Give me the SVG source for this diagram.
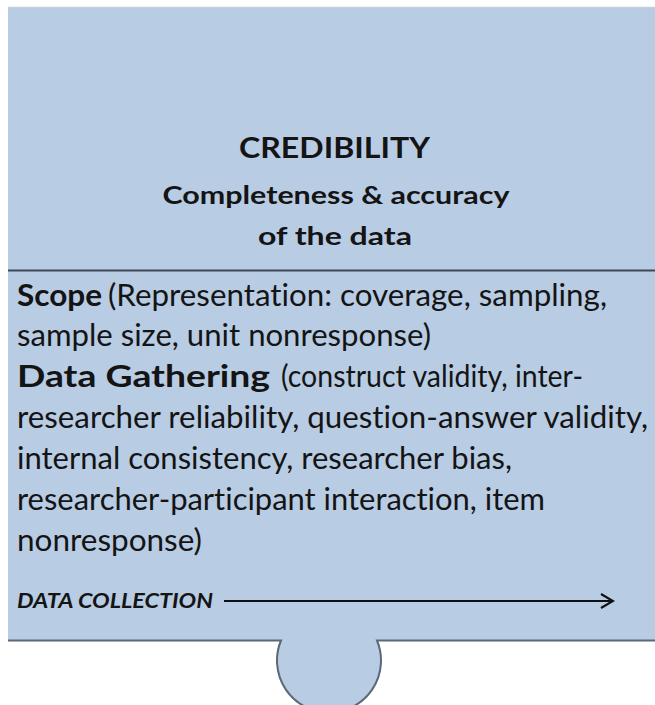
<svg xmlns="http://www.w3.org/2000/svg" width="655" height="705" viewBox="0 0 655 705">
<style>
.t{font-family:Lato,"Open Sans","Liberation Sans",sans-serif;fill:#141414;font-variant-ligatures:none}
.b{font-weight:bold}
.body{font-size:31px}
.head{font-size:28px;font-weight:bold;text-anchor:middle}
.sub{font-size:25px;font-weight:bold;text-anchor:middle}
</style>
<defs>
<marker id="arr" viewBox="0 0 16 16" refX="14" refY="8" markerWidth="16" markerHeight="16" markerUnits="userSpaceOnUse" orient="auto">
<path d="M2,1 L14,8 L2,15" fill="none" stroke="#111" stroke-width="2.2"/>
</marker>
</defs>
<rect width="655" height="705" fill="#ffffff"/>
<g id="piece">
<path d="M8,7.5 H656 V640.5 H377 A52,52 0 1,1 281,640.5 H8 Z" fill="#b8cce4"/>
<path d="M8,7.5 H656" stroke="#c5d0de" stroke-width="1.5" fill="none"/>
<path d="M8,640.5 H281 A52,52 0 1,0 377,640.5 H656" stroke="#5d6876" stroke-width="2" fill="none"/>
<line x1="8" y1="270.5" x2="656" y2="270.5" stroke="#3e4855" stroke-width="2"/>
</g>
<g id="title">
<text class="t head" x="334.5" y="158" textLength="191" lengthAdjust="spacingAndGlyphs">CREDIBILITY</text>
<text class="t sub" x="336" y="204" textLength="347" lengthAdjust="spacingAndGlyphs">Completeness &amp; accuracy</text>
<text class="t sub" x="335" y="245" textLength="154" lengthAdjust="spacingAndGlyphs">of the data</text>
</g>
<g id="body">
<text class="t body b" x="17" y="306" textLength="85" lengthAdjust="spacingAndGlyphs">Scope</text>
<text class="t body" x="108" y="306" textLength="499" lengthAdjust="spacingAndGlyphs">(Representation: coverage, sampling,</text>
<text class="t body" x="17" y="346" textLength="414" lengthAdjust="spacingAndGlyphs">sample size, unit nonresponse)</text>
<text class="t body b" x="17" y="387" textLength="253" lengthAdjust="spacingAndGlyphs">Data Gathering</text>
<text class="t body" x="281" y="387" textLength="302" lengthAdjust="spacingAndGlyphs">(construct validity, inter-</text>
<text class="t body" x="17" y="428" textLength="631" lengthAdjust="spacingAndGlyphs">researcher reliability, question-answer validity,</text>
<text class="t body" x="17" y="469" textLength="495" lengthAdjust="spacingAndGlyphs">internal consistency, researcher bias,</text>
<text class="t body" x="17" y="510" textLength="528" lengthAdjust="spacingAndGlyphs">researcher-participant interaction, item</text>
<text class="t body" x="17" y="551" textLength="185" lengthAdjust="spacingAndGlyphs">nonresponse)</text>
</g>
<g id="data-collection">
<text class="t b" x="17" y="608" font-size="20" font-style="italic" textLength="196" lengthAdjust="spacingAndGlyphs">DATA COLLECTION</text>
</g>
<g id="connectors">
<line x1="224" y1="601" x2="613" y2="601" stroke="#111" stroke-width="2" marker-end="url(#arr)"/>
</g>
</svg>
